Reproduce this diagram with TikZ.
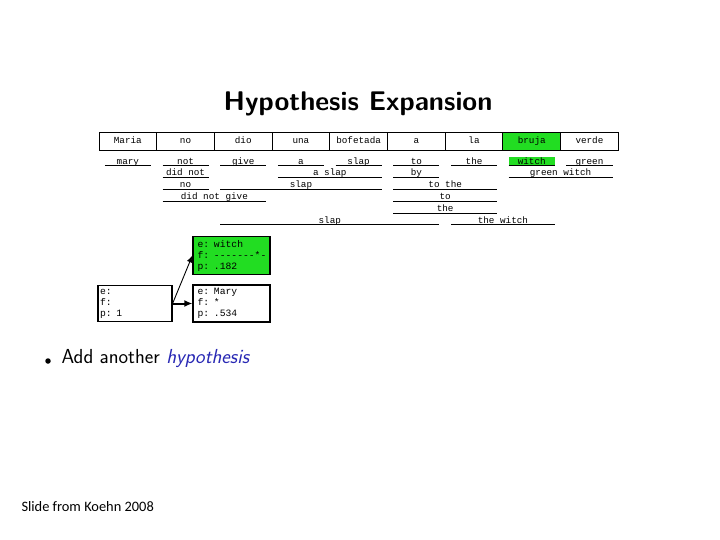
\documentclass[tikz,border=0pt]{standalone}
\usepackage{fontspec}
\usepackage{xcolor}
\usetikzlibrary{arrows.meta}
\newfontfamily\optfont{Liberation Mono}
\newfontfamily\notefont{Carlito}
\definecolor{BrightGreen}{RGB}{34,221,34}
\definecolor{StructBlue}{RGB}{40,40,180}

\begin{document}
\begin{tikzpicture}[x=1pt,y=-1pt,>={Latex[length=7pt,width=6pt]}]
   \useasboundingbox (0,0) rectangle (720,540);
   \node[font=\sffamily\bfseries\fontsize{27}{30}\selectfont] (title) at (358,104) {Hypothesis Expansion};
   \tikzstyle{cell}=[draw, line width=0.9pt, minimum width=57.7pt, minimum height=18pt, inner sep=0pt, text height=6.5pt, text depth=1.5pt, font=\optfont\fontsize{9.3}{10}\selectfont]
   \tikzstyle{opt}=[anchor=south, inner xsep=0pt, inner ysep=0.4pt, text height=6.5pt, text depth=1.2pt, font=\optfont\fontsize{9.3}{10}\selectfont,
      append after command={(\tikzlastnode.south west) edge[-, line width=1pt] (\tikzlastnode.south east)}]
   \tikzstyle{hyp}=[draw, line width=1.2pt, minimum height=33pt, text width=68pt, inner xsep=4.5pt, align=left, font=\optfont\fontsize{9.7}{11}\selectfont]
   % source sentence
   \foreach \i/\word/\bg in {0/Maria/white,1/no/white,2/dio/white,3/una/white,4/bofetada/white,5/a/white,6/la/white,7/bruja/BrightGreen,8/verde/white} {
       \node[cell, fill=\bg] (h\i) at ({127.85+57.7*\i},141) {\word};
   }
   % translation options: column/width/row/text/fill
   \foreach \c/\w/\r/\word/\bg in {0/1/1/mary/none,1/1/1/not/none,2/1/1/give/none,3/1/1/a/none,4/1/1/slap/none,
         5/1/1/to/none,6/1/1/the/none,7/1/1/witch/BrightGreen,8/1/1/green/none,
         1/1/2/did not/none,3/2/2/a slap/none,5/1/2/by/none,7/2/2/green witch/none,
         1/1/3/no/none,2/3/3/slap/none,5/2/3/to the/none,
         1/2/4/did not give/none,5/2/4/to/none,
         5/2/5/the/none,
         2/4/6/slap/none,6/2/6/the witch/none} {
       \node[opt, fill=\bg, minimum width={57.7*\w-12}] (o\r-\c) at ({99+57.7*(\c+\w/2)},{166+11.8*(\r-1)}) {\word};
   }
   % hypotheses
   \node[hyp, text width=70pt, inner xsep=2pt] (start) at (135,303.5) {e:\\f:\\p: 1};
   \node[hyp, fill=BrightGreen] (witch) at (231.5,255.5) {e: witch\\\makebox[0pt][l]{f: -{}-{}-{}-{}-{}-{}-*-}\\p: .182};
   \node[hyp] (mary) at (231.5,303.5) {e: Mary\\f: *\\p: .534};
   \draw[->, line width=2pt, >={Latex[length=8pt,width=7pt]}] (start.east) -- (mary.west);
   \draw[->, line width=0.9pt] (start.east) -- (witch.west);
   \node[circle, fill=black, inner sep=0pt, minimum size=5.5pt] (dot) at (48,361) {};
   \node[anchor=west, font=\sffamily\fontsize{20.3}{24}\selectfont] (point) at (58,359) {Add another \textcolor{StructBlue}{\itshape hypothesis}};
   \node[anchor=west, font=\notefont\fontsize{14.4}{16}\selectfont] (credit) at (18,507) {Slide from Koehn 2008};
\end{tikzpicture}
\end{document}
